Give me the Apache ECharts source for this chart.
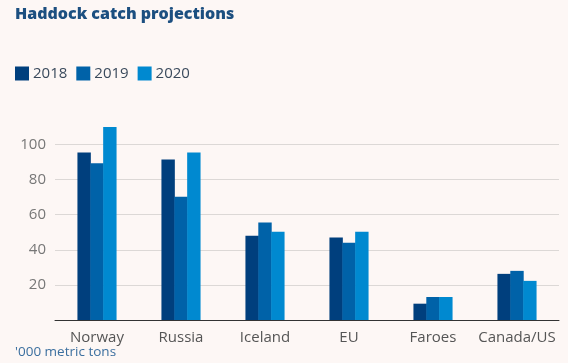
<!DOCTYPE html>
<html><head><meta charset="utf-8">
<script src="https://cdn.jsdelivr.net/npm/echarts@6/dist/echarts.min.js"></script>
<style>html,body{margin:0;padding:0;background:#fdf7f5;}#c{width:568px;height:363px;}</style>
</head><body><div id="c"></div>
<script>
const categories = ['Norway', 'Russia', 'Iceland', 'EU', 'Faroes', 'Canada/US'];
const years = ['2018', '2019', '2020'];
const v2018 = [95.5, 91.5, 48, 47, 9.3, 26.3];
const v2019 = [89.3, 70.3, 55.5, 44, 13.1, 28];
const v2020 = [110.3, 95.5, 50.3, 50.3, 13.1, 22.3];
const colors = ['#003f7d', '#0062a8', '#0089d0'];
const gridCol = '#dcd8d6';

const chart = echarts.init(document.getElementById('c'), null, {renderer: 'canvas'});
chart.setOption({
  backgroundColor: '#fdf7f5',
  animation: false,
  title: {
    text: 'Haddock catch projections', left: 15, top: 6, padding: 0,
    textStyle: {fontFamily: 'Open Sans', fontWeight: 800, fontSize: 16, color: '#1c4f80'}
  },
  legend: {
    left: 15, top: 66, padding: 0, itemWidth: 14, itemHeight: 14, itemGap: 9,
    icon: 'rect', itemStyle: {borderWidth: 0},
    textStyle: {fontFamily: 'Open Sans', fontSize: 15, color: '#3a4a5c', padding: [0, 0, 0, -1]},
    data: years
  },
  graphic: [{
    type: 'text', left: 15, top: 345,
    style: {text: "'000 metric tons", fontFamily: 'Open Sans', fontSize: 13.5, fill: '#3b6f9f'}
  }],
  grid: {left: 55, right: 9, top: 127, bottom: 43},
  xAxis: {
    type: 'category', data: categories,
    axisLine: {lineStyle: {color: '#333', width: 1}},
    axisTick: {show: false},
    axisLabel: {interval: 0, fontFamily: 'Open Sans', fontSize: 15, color: '#555', margin: 10}
  },
  yAxis: {
    type: 'value', min: 0, max: 110, interval: 20,
    axisLine: {show: false}, axisTick: {show: false},
    axisLabel: {
      fontFamily: 'Open Sans', fontSize: 15, color: '#777', margin: 9,
      formatter: function (v) { return (v === 0 || v === 110) ? '' : v; }
    },
    splitLine: {lineStyle: {color: ['transparent', gridCol, gridCol, gridCol, gridCol, gridCol, 'transparent'], width: 1}}
  },
  series: [
    {name: years[0], type: 'bar', data: v2018, barWidth: 13.4, barGap: '-4%', itemStyle: {color: colors[0]}},
    {name: years[1], type: 'bar', data: v2019, barWidth: 13.4, barGap: '-4%', itemStyle: {color: colors[1]}},
    {name: years[2], type: 'bar', data: v2020, barWidth: 13.4, barGap: '-4%', itemStyle: {color: colors[2]}}
  ]
});
</script></body></html>
